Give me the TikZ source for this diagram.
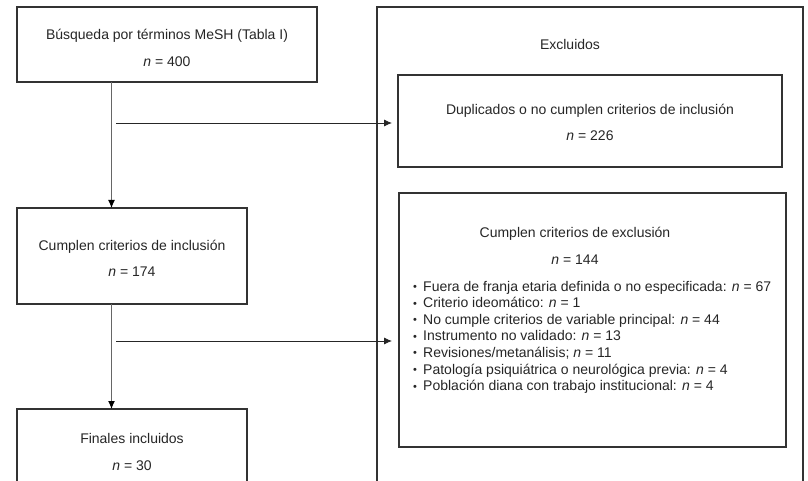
\documentclass[tikz,border=0pt]{standalone}
\usepackage{fontspec}
\setmainfont{Liberation Sans}
\usetikzlibrary{arrows.meta}
\newcommand{\bul}{\makebox[10pt][l]{\raisebox{0.6pt}{\fontsize{11}{11}\selectfont •}}}
\begin{document}
\begin{tikzpicture}[x=1pt,y=-1pt,
  box/.style={draw=black!80, line width=1.2pt, inner sep=0pt, outer sep=0pt},
  txt/.style={inner sep=0pt, text=black!85, font=\fontsize{14}{16.6}\selectfont},
  harrow/.style={draw=black!85, line width=0.8pt, -{Latex[length=8pt,width=7pt]}},
  varrow/.style={draw=black!60, line width=1pt, -{Latex[length=8pt,width=7pt,color=black]}}
]
\useasboundingbox (0,0) rectangle (808,481);
\fill[white] (0,0) rectangle (808,481);
\clip (0,0) rectangle (808,481);

% boxes
\node[box, minimum width=300pt, minimum height=75pt] (b1) at (167,44.5) {};
\node[box, minimum width=230pt, minimum height=96pt] (b2) at (132,256) {};
\node[box, minimum width=230pt, minimum height=120pt] (b3) at (132,469) {};
\node[box, minimum width=426pt, minimum height=540pt] (out) at (590,277) {};
\node[box, minimum width=384pt, minimum height=92pt] (dup) at (590,121) {};
\node[box, minimum width=387pt, minimum height=254pt] (exc) at (592.5,320) {};

% texts
\node[txt, anchor=base] (t1a) at (167,40) {Búsqueda por términos MeSH (Tabla I)};
\node[txt, anchor=base] (t1b) at (167,67) {\textit{n} = 400};
\node[txt, anchor=base] (t2a) at (132,250) {Cumplen criterios de inclusión};
\node[txt, anchor=base] (t2b) at (132,276) {\textit{n} = 174};
\node[txt, anchor=base] (t3a) at (132,443) {Finales incluidos};
\node[txt, anchor=base] (t3b) at (132,470) {\textit{n} = 30};
\node[txt, anchor=base] (tex) at (570,50) {Excluidos};
\node[txt, anchor=base] (tda) at (590,115) {Duplicados o no cumplen criterios de inclusión};
\node[txt, anchor=base] (tdb) at (590,141) {\textit{n} = 226};
\node[txt, anchor=base] (tea) at (575,237) {Cumplen criterios de exclusión};
\node[txt, anchor=base] (teb) at (575,264) {\textit{n} = 144};
\node[txt, anchor=base west] (l1) at (413,291) {\bul Fuera de franja etaria definida o no especificada: \textit{n} = 67};
\node[txt, anchor=base west] (l2) at (413,307.6) {\bul Criterio ideomático: \textit{n} = 1};
\node[txt, anchor=base west] (l3) at (413,324.2) {\bul No cumple criterios de variable principal: \textit{n} = 44};
\node[txt, anchor=base west] (l4) at (413,340.8) {\bul Instrumento no validado: \textit{n} = 13};
\node[txt, anchor=base west] (l5) at (413,357.4) {\bul Revisiones/metanálisis; \textit{n} = 11};
\node[txt, anchor=base west] (l6) at (413,374) {\bul Patología psiquiátrica o neurológica previa: \textit{n} = 4};
\node[txt, anchor=base west] (l7) at (413,390.6) {\bul Población diana con trabajo institucional: \textit{n} = 4};

% connectors
\coordinate (c1) at (111.5,0);
\coordinate (h1) at (116,123);
\coordinate (h2) at (116,341);
\draw[varrow] (b1.south -| c1) -- (b2.north -| c1);
\draw[varrow] (b2.south -| c1) -- (b3.north -| c1);
\draw[harrow, shorten >=6pt] (h1) -- (h1 -| dup.west);
\draw[harrow, shorten >=7pt] (h2) -- (h2 -| exc.west);
\end{tikzpicture}
\end{document}
